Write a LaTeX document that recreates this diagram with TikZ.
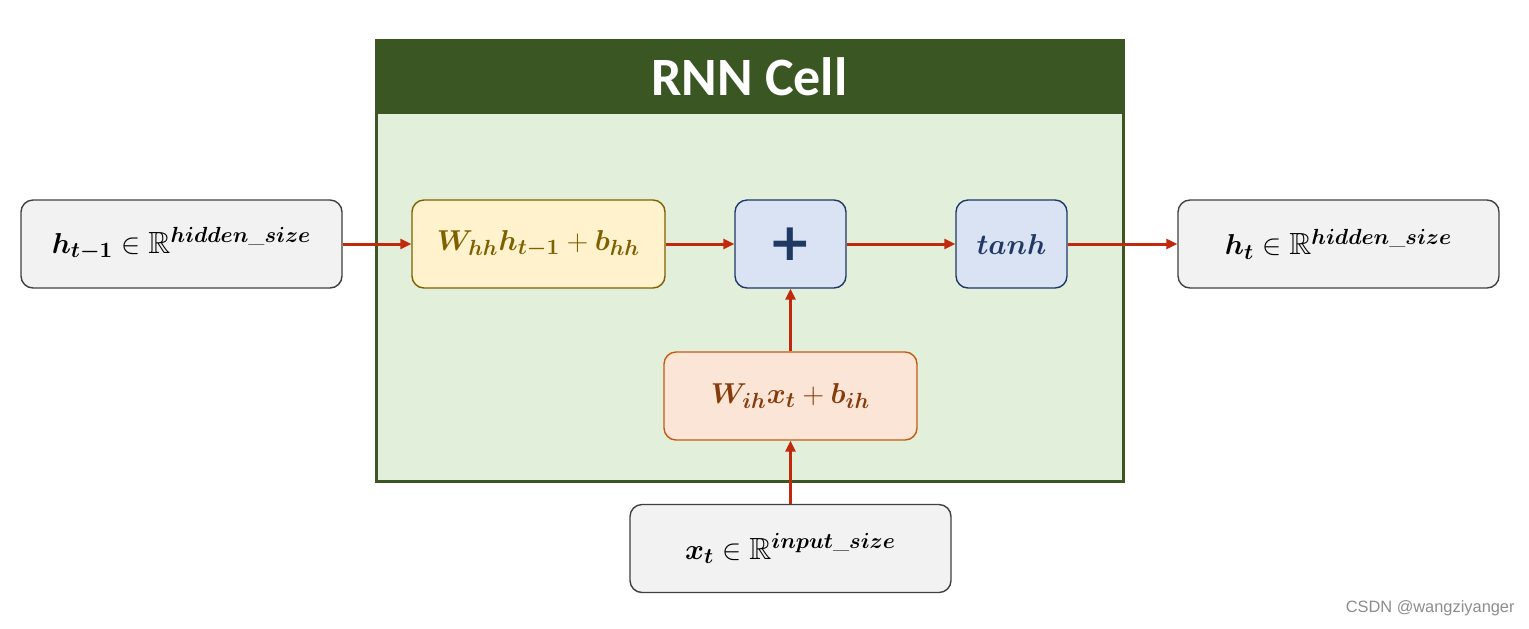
\documentclass[tikz,border=0pt]{standalone}
\usepackage{amsmath,amssymb,bm}
\usepackage{fontspec}
\newfontfamily\carlito{Carlito}
\newfontfamily\wmfont{Liberation Sans}
\newfontfamily\plusfont{DejaVu Sans}
\usetikzlibrary{arrows.meta,positioning}
\definecolor{cellbody}{HTML}{E2EFDA}
\definecolor{cellhead}{HTML}{3A5723}
\definecolor{iofill}{HTML}{F2F2F2}
\definecolor{ioline}{HTML}{404040}
\definecolor{yfill}{HTML}{FFF2CC}
\definecolor{yline}{HTML}{7F6000}
\definecolor{bfill}{HTML}{DAE3F3}
\definecolor{bline}{HTML}{203864}
\definecolor{ofill}{HTML}{FBE5D6}
\definecolor{oline}{HTML}{C55A11}
\definecolor{otext}{HTML}{843C0C}
\definecolor{arrowred}{HTML}{C0290B}
\tikzset{
  box/.style={draw, rounded corners=6pt, line width=0.7pt, minimum height=44pt, inner sep=0pt},
  iobox/.style={box, fill=iofill, draw=ioline, minimum width=160.5pt},
  ybox/.style={box, fill=yfill, draw=yline, minimum width=126.5pt, text=yline},
  bbox/.style={box, fill=bfill, draw=bline, minimum width=55.5pt, text=bline},
  obox/.style={box, fill=ofill, draw=oline, minimum width=126.5pt, text=otext},
  conn/.style={draw=arrowred, line width=1.5pt, -{Triangle[length=5.5pt,width=5pt]}},
  mathtxt/.style={font=\fontsize{15.3}{18}\selectfont}
}
\begin{document}
\begin{tikzpicture}[x=0.5pt,y=-0.5pt]
\useasboundingbox (0,0) rectangle (1529,628);
% cell
\node[draw=cellhead, fill=cellbody, line width=1.5pt, minimum width=373.5pt, minimum height=220.5pt, inner sep=0pt] (cell) at (749.5,260.5) {};
\node[fill=cellhead, minimum width=374pt, minimum height=37pt, inner sep=0pt, text=white, font=\carlito\bfseries\fontsize{27}{30}\selectfont] (hdr) at (749.5,76.5) {RNN Cell};
% boxes
\node[iobox, mathtxt] (hprev) at (181.5,244) {$\bm{h_{t-1}}\in\mathbb{R}^{\bm{hidden\_size}}$};
\node[ybox, mathtxt] (whh) at (538.5,244) {$\bm{W_{hh}h_{t-1}}+\bm{b_{hh}}$};
\node[bbox, font=\plusfont\bfseries\fontsize{26}{26}\selectfont] (plus) at (790.5,244) {+};
\node[bbox, mathtxt] (tanh) at (1011.5,244) {$\bm{tanh}$};
\node[iobox, mathtxt] (hnext) at (1338.5,244) {$\bm{h_{t}}\in\mathbb{R}^{\bm{hidden\_size}}$};
\node[obox, mathtxt] (wih) at (790.5,396) {$\bm{W_{ih}x_t}+\bm{b_{ih}}$};
\node[iobox, mathtxt] (xt) at (790.5,548.5) {$\bm{x_{t}}\in\mathbb{R}^{\bm{input\_size}}$};
% connectors
\draw[conn] (hprev) -- (whh);
\draw[conn] (whh) -- (plus);
\draw[conn] (plus) -- (tanh);
\draw[conn] (tanh) -- (hnext);
\draw[conn] (wih) -- (plus);
\draw[conn] (xt) -- (wih);
% watermark
\node[text=black!45, font=\wmfont\fontsize{8.2}{10}\selectfont, anchor=east, inner sep=0pt] (wm) at (1515,608) {CSDN @wangziyanger};
\end{tikzpicture}
\end{document}
